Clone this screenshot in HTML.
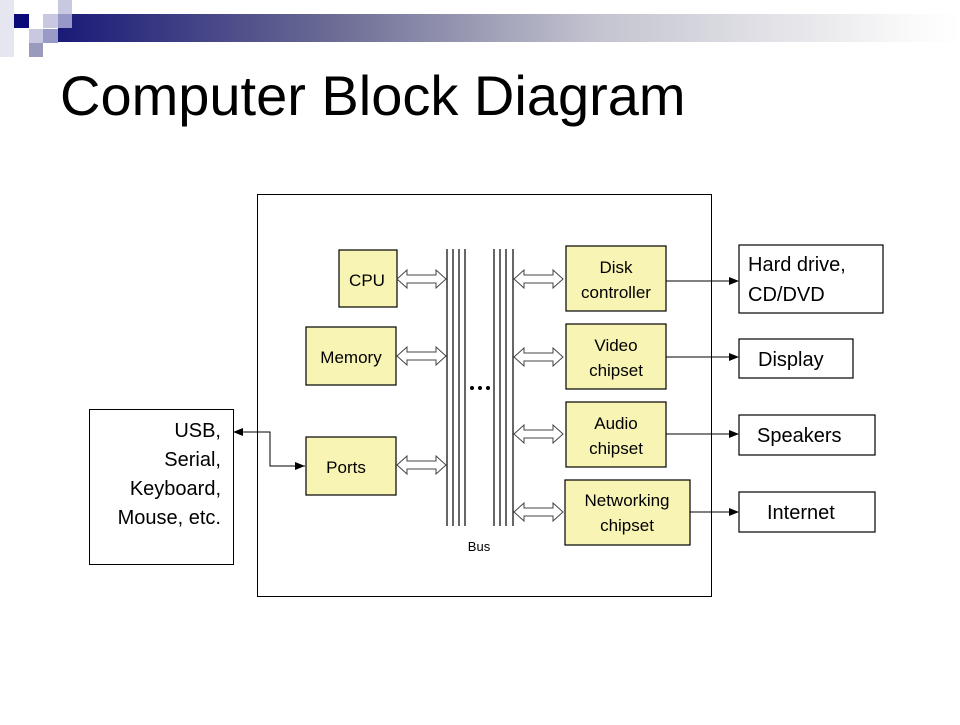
<!DOCTYPE html>
<html><head><style>
body{margin:0;width:960px;height:720px;background:#fff;overflow:hidden;font-family:"Liberation Sans",Arial,sans-serif}
</style></head><body>
<svg width="960" height="720" viewBox="0 0 960 720" xmlns="http://www.w3.org/2000/svg">
<defs>
<linearGradient id="g" x1="0" x2="1" y1="0" y2="0">
<stop offset="0" stop-color="#1a1a78"/><stop offset="0.3" stop-color="#6a6a94"/><stop offset="0.6" stop-color="#c4c4d0"/><stop offset="0.95" stop-color="#fafafa"/><stop offset="1" stop-color="#fff"/>
</linearGradient>
<marker id="a" markerWidth="10" markerHeight="8" refX="9" refY="4" orient="auto" markerUnits="userSpaceOnUse"><path d="M0,0 L10,4 L0,8z" fill="#000"/></marker>
<marker id="b" markerWidth="10" markerHeight="8" refX="0" refY="4" orient="auto" markerUnits="userSpaceOnUse"><path d="M10,0 L0,4 L10,8z" fill="#000"/></marker>
<path id="da" d="M0,0 L10,-9 L10,-4 L39,-4 L39,-9 L49,0 L39,9 L39,4 L10,4 L10,9z"/>
</defs>
<rect x="0" y="0" width="14" height="57" fill="#e6e6f0"/>
<rect x="58" y="14" width="902" height="28" fill="url(#g)"/>
<rect x="14" y="14" width="15" height="14" fill="#0a0a78"/>
<rect x="43" y="14" width="15" height="14" fill="#c8c8e0"/>
<rect x="58" y="0" width="14" height="14" fill="#c8c8e0"/>
<rect x="58" y="14" width="14" height="14" fill="#9898c8"/>
<rect x="29" y="29" width="14" height="14" fill="#c8c8e0"/>
<rect x="43" y="29" width="15" height="14" fill="#9a9ac8"/>
<rect x="29" y="43" width="14" height="14" fill="#9a9abc"/>
<text x="60" y="115" font-size="56" fill="#000">Computer Block Diagram</text>

<rect x="257.5" y="194.5" width="454" height="402" fill="none" stroke="#000"/>
<rect x="89.5" y="409.5" width="144" height="155" fill="#fff" stroke="#000"/>
<g font-size="20" text-anchor="end">
<text x="221" y="437">USB,</text><text x="221" y="466">Serial,</text><text x="221" y="495">Keyboard,</text><text x="221" y="524">Mouse, etc.</text>
</g>

<g stroke="#000" stroke-width="1.2">
<line x1="447" y1="249" x2="447" y2="526"/><line x1="453" y1="249" x2="453" y2="526"/><line x1="459" y1="249" x2="459" y2="526"/><line x1="465" y1="249" x2="465" y2="526"/>
<line x1="494" y1="249" x2="494" y2="526"/><line x1="500" y1="249" x2="500" y2="526"/><line x1="506" y1="249" x2="506" y2="526"/><line x1="513" y1="249" x2="513" y2="526"/>
</g>
<g fill="#000"><circle cx="472" cy="388" r="2"/><circle cx="480" cy="388" r="2"/><circle cx="488" cy="388" r="2"/></g>
<text x="479" y="551" font-size="13" text-anchor="middle">Bus</text>

<g fill="#f8f4b4" stroke="#000" stroke-width="1.2">
<rect x="339" y="250" width="58" height="57"/>
<rect x="306" y="327" width="90" height="58"/>
<rect x="306" y="437" width="90" height="58"/>
<rect x="566" y="246" width="100" height="65"/>
<rect x="566" y="324" width="100" height="65"/>
<rect x="566" y="402" width="100" height="65"/>
<rect x="565" y="480" width="125" height="65"/>
</g>
<g font-size="17" text-anchor="middle">
<text x="367" y="286">CPU</text>
<text x="351" y="363">Memory</text>
<text x="346" y="473">Ports</text>
<text x="616" y="273">Disk</text><text x="616" y="298">controller</text>
<text x="616" y="351">Video</text><text x="616" y="376">chipset</text>
<text x="616" y="429">Audio</text><text x="616" y="454">chipset</text>
<text x="627" y="506">Networking</text><text x="627" y="531">chipset</text>
</g>

<g fill="#fff" stroke="#444" stroke-width="1">
<use href="#da" x="397" y="279"/>
<use href="#da" x="397" y="356"/>
<use href="#da" x="397" y="465"/>
<use href="#da" x="514" y="279"/>
<use href="#da" x="514" y="357"/>
<use href="#da" x="514" y="434"/>
<use href="#da" x="514" y="512"/>
</g>

<g fill="#fff" stroke="#000" stroke-width="1.2">
<rect x="739" y="245" width="144" height="68"/>
<rect x="739" y="339" width="114" height="39"/>
<rect x="739" y="415" width="136" height="40"/>
<rect x="739" y="492" width="136" height="40"/>
</g>
<g font-size="20">
<text x="748" y="271">Hard drive,</text><text x="748" y="301">CD/DVD</text>
<text x="758" y="366">Display</text>
<text x="757" y="442">Speakers</text>
<text x="767" y="519">Internet</text>
</g>
<g stroke="#000" stroke-width="1" fill="none">
<line x1="666" y1="281" x2="738" y2="281" marker-end="url(#a)"/>
<line x1="666" y1="357" x2="738" y2="357" marker-end="url(#a)"/>
<line x1="666" y1="434" x2="738" y2="434" marker-end="url(#a)"/>
<line x1="690" y1="512" x2="738" y2="512" marker-end="url(#a)"/>
<polyline points="305,466 270,466 270,432 234,432" marker-start="url(#b)" marker-end="url(#a)"/>
</g>
</svg>
</body></html>
